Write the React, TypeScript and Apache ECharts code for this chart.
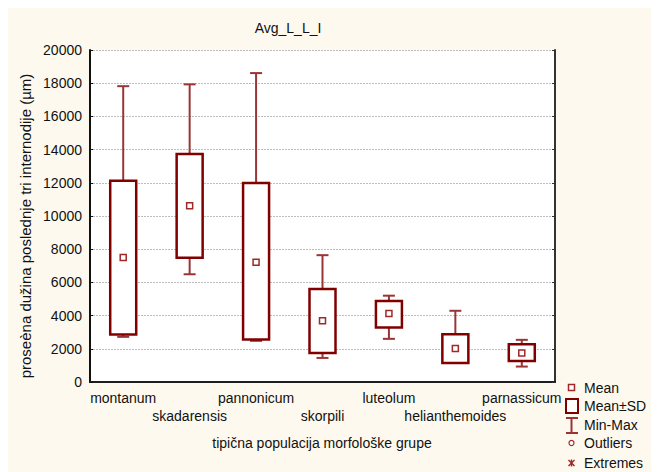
import React, { useEffect, useRef } from "react";
import * as echarts from "echarts";

const categories = ["montanum", "skadarensis", "pannonicum", "skorpili", "luteolum", "helianthemoides", "parnassicum"];
const minValues = [2720, 6490, 2480, 1450, 2600, 1150, 930];
const sdLow = [2860, 7490, 2560, 1750, 3290, 1150, 1270];
const means = [7500, 10620, 7210, 3690, 4130, 2020, 1750];
const sdHigh = [12130, 13740, 11990, 5600, 4880, 2880, 2280];
const maxValues = [17820, 17930, 18610, 7640, 5200, 4290, 2540];
const yTicks = { min: 0, max: 20000, interval: 2000 };

const BOX = "#800000";
const WHISK = "#9a3535";
const FONT = "'Liberation Sans', Arial, sans-serif";

export default function App() {
  const ref = useRef<HTMLDivElement>(null);
  useEffect(() => {
    if (!ref.current) return;
    const chart = echarts.init(ref.current, null, { renderer: "svg" });
    const boxData = categories.map((_, i) => [i, minValues[i], sdLow[i], sdHigh[i], maxValues[i]]);
    const txt = (x: number, y: number, text: string, extra: any = {}) => ({
      type: "text",
      x,
      y,
      style: { text, fill: "#111", font: `${extra.size || 14}px ${FONT}`, textAlign: "left", textVerticalAlign: "middle", ...(extra.style || {}) },
      ...(extra.rotation !== undefined ? { rotation: extra.rotation } : {}),
    });
    const option: any = {
      animation: false,
      backgroundColor: "#fdf9ef",
      textStyle: { fontFamily: FONT },
      grid: { left: 82, top: 42, right: 104, bottom: 90, show: true, backgroundColor: "#ffffff", borderWidth: 0 },
      xAxis: [
        {
          type: "category",
          data: categories,
          position: "bottom",
          boundaryGap: true,
          axisLine: { lineStyle: { color: "#111", width: 2 } },
          axisTick: { inside: true, length: 4, alignWithLabel: true, lineStyle: { color: "#111" } },
          axisLabel: {
            interval: 0,
            margin: 7,
            fontSize: 14,
            lineHeight: 18,
            color: "#111",
            fontFamily: FONT,
            formatter: (v: string, i: number) => (i % 2 === 1 ? "\n" + v : v),
          },
        },
        {
          type: "category",
          data: categories,
          position: "top",
          boundaryGap: true,
          axisLine: { lineStyle: { color: "#222", width: 1.5 } },
          axisTick: { inside: true, length: 4, alignWithLabel: true, lineStyle: { color: "#222" } },
          axisLabel: { show: false },
        },
      ],
      yAxis: [
        {
          type: "value",
          min: yTicks.min,
          max: yTicks.max,
          interval: yTicks.interval,
          position: "left",
          axisLine: { show: true, lineStyle: { color: "#111", width: 2 } },
          axisTick: { show: true, inside: true, length: 3, lineStyle: { color: "#111" } },
          axisLabel: { margin: 8, fontSize: 14, color: "#111", fontFamily: FONT, formatter: (v: number) => String(v) },
          splitLine: { show: true, lineStyle: { color: "#bdbdbd", type: [2, 1], width: 1 } },
        },
        {
          type: "value",
          min: yTicks.min,
          max: yTicks.max,
          interval: yTicks.interval,
          position: "right",
          axisLine: { show: true, lineStyle: { color: "#333", width: 2 } },
          axisTick: { show: true, inside: true, length: 3, lineStyle: { color: "#333" } },
          axisLabel: { show: false },
          splitLine: { show: false },
        },
      ],
      series: [
        {
          type: "custom",
          xAxisIndex: 0,
          yAxisIndex: 0,
          data: boxData,
          renderItem: (params: any, api: any) => {
            const i = api.value(0);
            const pMin = api.coord([i, api.value(1)]);
            const pLo = api.coord([i, api.value(2)]);
            const pHi = api.coord([i, api.value(3)]);
            const pMax = api.coord([i, api.value(4)]);
            const x = pMin[0];
            const bw = 26;
            const cw = 12;
            const ws = { stroke: WHISK, lineWidth: 2 };
            const children: any[] = [
              { type: "line", shape: { x1: x, y1: pMax[1], x2: x, y2: pHi[1] }, style: ws },
              { type: "line", shape: { x1: x - cw / 2, y1: pMax[1], x2: x + cw / 2, y2: pMax[1] }, style: ws },
              { type: "line", shape: { x1: x, y1: pLo[1], x2: x, y2: pMin[1] }, style: ws },
              { type: "line", shape: { x1: x - cw / 2, y1: pMin[1], x2: x + cw / 2, y2: pMin[1] }, style: ws },
              {
                type: "rect",
                shape: { x: x - bw / 2, y: pHi[1], width: bw, height: pLo[1] - pHi[1] },
                style: { fill: "#fff", stroke: BOX, lineWidth: 2.5 },
              },
            ];
            return { type: "group", children };
          },
          z: 2,
        },
        {
          type: "scatter",
          xAxisIndex: 0,
          yAxisIndex: 0,
          data: means.map((m, i) => [i, m]),
          symbol: "rect",
          symbolSize: 6,
          itemStyle: { color: "#fff", borderColor: "#a02828", borderWidth: 1.5, opacity: 1 },
          z: 3,
        },
      ],
      graphic: [
        txt(280, 20, "Avg_L_L_I", { style: { textAlign: "center" } }),
        txt(17, 218, "proseèna dužina poslednje tri internodije (µm)", { style: { textAlign: "center" }, rotation: Math.PI / 2, size: 15 }),
        txt(314, 435, "tipična populacija morfološke grupe", { style: { textAlign: "center" } }),
        // legend
        { type: "rect", shape: { x: 560.5, y: 376.5, width: 6, height: 6 }, style: { fill: "#fff", stroke: "#a02828", lineWidth: 1.5 } },
        txt(576, 380, "Mean"),
        { type: "rect", shape: { x: 558, y: 391, width: 12, height: 14 }, style: { fill: "#fff", stroke: BOX, lineWidth: 2 } },
        txt(576, 398, "Mean±SD"),
        { type: "line", shape: { x1: 563.5, y1: 410, x2: 563.5, y2: 425 }, style: { stroke: WHISK, lineWidth: 2 } },
        { type: "line", shape: { x1: 558, y1: 410, x2: 570, y2: 410 }, style: { stroke: WHISK, lineWidth: 2 } },
        { type: "line", shape: { x1: 558, y1: 425, x2: 570, y2: 425 }, style: { stroke: WHISK, lineWidth: 2 } },
        txt(576, 417, "Min-Max"),
        { type: "circle", shape: { cx: 563.5, cy: 435, r: 2.5 }, style: { fill: "#fff", stroke: "#a02828", lineWidth: 1.2 } },
        txt(576, 435, "Outliers"),
        { type: "line", shape: { x1: 560.5, y1: 452, x2: 566.5, y2: 458 }, style: { stroke: "#a02828", lineWidth: 1.5 } },
        { type: "line", shape: { x1: 566.5, y1: 452, x2: 560.5, y2: 458 }, style: { stroke: "#a02828", lineWidth: 1.5 } },
        { type: "line", shape: { x1: 563.5, y1: 451.5, x2: 563.5, y2: 458.5 }, style: { stroke: "#a02828", lineWidth: 1.5 } },
        txt(576, 455, "Extremes"),
      ],
    };
    chart.setOption(option);
    return () => chart.dispose();
  }, []);
  return <div ref={ref} style={{ width: 651, height: 464 }} />;
}
